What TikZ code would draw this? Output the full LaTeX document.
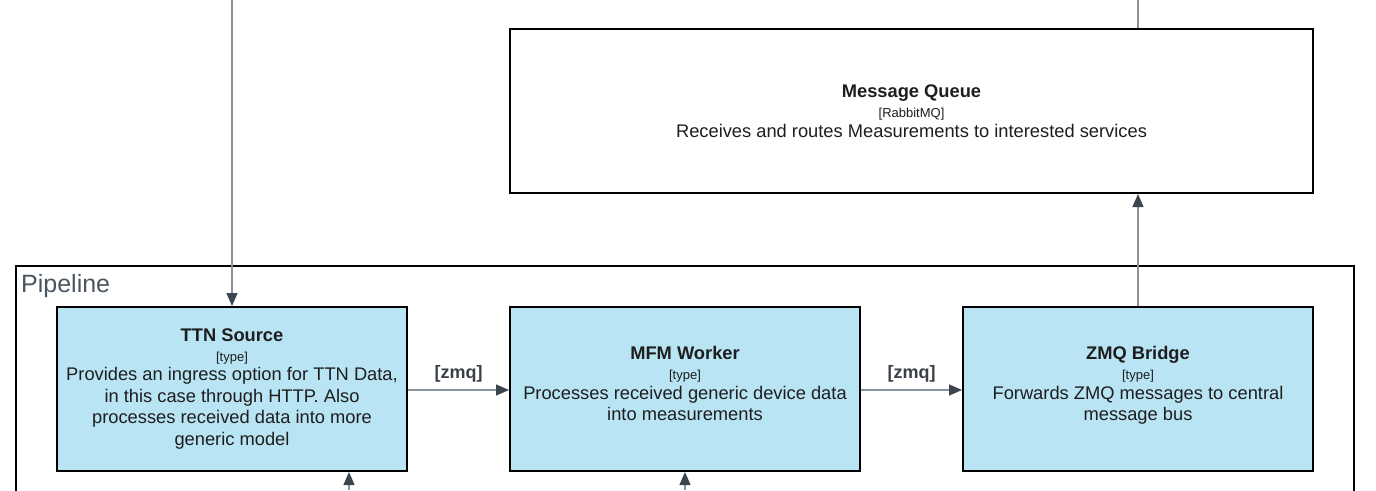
\documentclass[tikz,border=0pt]{standalone}
\usepackage{fontspec}
\setmainfont{Liberation Sans}
\usetikzlibrary{arrows.meta}
\definecolor{boxblue}{HTML}{B9E4F3}
\definecolor{linegray}{HTML}{8A9299}
\definecolor{tipgray}{HTML}{3B4550}
\definecolor{txt}{HTML}{1E1E1E}
\definecolor{lbl}{HTML}{3A4049}
\definecolor{pipe}{HTML}{4A5560}
\tikzset{
  comp/.style={draw=black, line width=2pt, fill=boxblue, minimum width=350pt, minimum height=164pt, align=center, text=txt, inner sep=0pt, font=\fontsize{18.3}{21.5}\selectfont},
  ext/.style={comp, fill=white, minimum width=803pt},
  conn/.style={draw=linegray, line width=1.4pt, -{Triangle[length=13pt,width=11pt,fill=tipgray,color=tipgray]}},
  plain/.style={draw=linegray, line width=1.4pt},
  zlabel/.style={font=\fontsize{18}{20}\selectfont\bfseries, text=lbl},
  container/.style={draw=black, line width=2pt}
}
\newcommand{\ttl}[1]{{\bfseries #1}\\[-1.5pt]}
\newcommand{\typ}[1]{{\fontsize{13}{15}\selectfont #1}\\[-2pt]}
\newcommand{\raisetxt}{\\[-11pt]\rule{0pt}{0pt}}
\begin{document}
\begin{tikzpicture}[x=1pt,y=-1pt]
\useasboundingbox (0,0) rectangle (1376,490);
% container
\draw[container] (16,500) -- (16,266) -- (1354,266) -- (1354,500);
\node[anchor=base west, inner sep=0pt, text=pipe, font=\fontsize{25}{28}\selectfont] (pl) at (21,292) {Pipeline};
% boxes
\node[ext] (mq) at (911.5,111) {\ttl{Message Queue}\typ{[RabbitMQ]}Receives and routes Measurements to interested services};
\node[comp] (ttn) at (232,389) {\ttl{TTN Source}\typ{[type]}Provides an ingress option for TTN Data,\\ in this case through HTTP. Also\\ processes received data into more\\ generic model};
\node[comp] (mfm) at (685,389) {\ttl{MFM Worker}\typ{[type]}Processes received generic device data\\ into measurements\raisetxt};
\node[comp] (zmq) at (1138,389) {\ttl{ZMQ Bridge}\typ{[type]}Forwards ZMQ messages to central\\ message bus\raisetxt};
% free ends
\coordinate (topA) at (232,0);
\coordinate (topB) at (1138,0);
\coordinate (botA) at (349,490);
\coordinate (botB) at (685,490);
% connectors
\draw[conn] (topA) -- (ttn.north);
\draw[plain] (topB) -- (mq.north -| topB);
\draw[conn] (ttn.east |- 0,390) -- node[zlabel, above=4pt] {[zmq]} (mfm.west |- 0,390);
\draw[conn] (mfm.east |- 0,390) -- node[zlabel, above=4pt] {[zmq]} (zmq.west |- 0,390);
\draw[conn] (zmq.north) -- (mq.south -| zmq.north);
\draw[conn] (botA) -- (ttn.south -| botA);
\draw[conn] (botB) -- (mfm.south -| botB);
\end{tikzpicture}
\end{document}
